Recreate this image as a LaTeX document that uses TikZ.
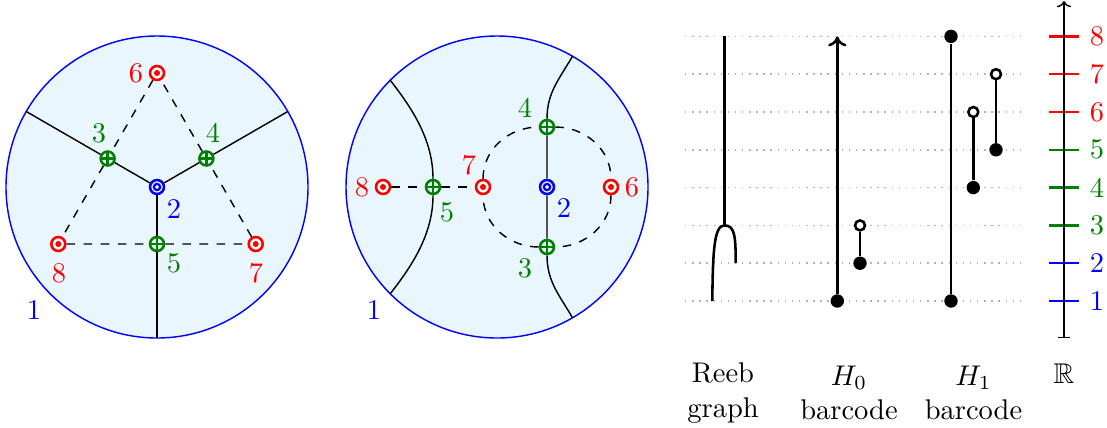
\documentclass[tikz,border=0pt]{standalone}
\usepackage{amsmath,amssymb}
\usepackage{tikz}
\usetikzlibrary{arrows.meta,calc}
\definecolor{discfill}{RGB}{234,246,253}
\colorlet{critgreen}{green!50!black}

\begin{document}
\begin{tikzpicture}[x=0.351pt, y=0.351pt,
  disc/.style={draw=blue, fill=discfill, line width=0.5pt},
  maxpt/.style={circle, draw=red, fill=white, line width=0.9pt,
    minimum size=4.9pt, inner sep=0pt,
    path picture={\fill[red] (path picture bounding box.center) circle (1.05pt);}},
  sadpt/.style={circle, draw=critgreen, fill=discfill, line width=0.9pt,
    minimum size=4.9pt, inner sep=0pt,
    path picture={\draw[critgreen, line width=0.8pt]
      (path picture bounding box.west) -- (path picture bounding box.east)
      (path picture bounding box.north) -- (path picture bounding box.south);}},
  minpt/.style={circle, draw=blue, fill=white, line width=0.9pt,
    minimum size=4.9pt, inner sep=0pt,
    path picture={\draw[blue, line width=0.8pt] (path picture bounding box.center) circle (1.1pt);}},
  lbl/.style={inner sep=0pt},
  ridge/.style={line width=0.5pt},
  flowdash/.style={dashed, line width=0.5pt},
  levelline/.style={dotted, black!30, line width=0.5pt},
  tickmark/.style={line width=0.9pt},
  reeb/.style={line width=0.9pt},
  bar/.style={line width=0.9pt},
  born/.style={circle, fill=black, minimum size=4.7pt, inner sep=0pt},
  dies/.style={circle, draw=black, fill=white, line width=0.9pt, minimum size=3.5pt, inner sep=0pt},
  caption/.style={align=center}
]
  \useasboundingbox (0,0) rectangle (1107,427);

  % first disc
  \coordinate (c1) at (157,240);
  \draw[disc] (c1) circle (151);
  \node[minpt] (a2) at (c1) {};
  \node[maxpt] (a6) at ($(c1)+(90:114)$) {};
  \node[maxpt] (a8) at ($(c1)+(210:114)$) {};
  \node[maxpt] (a7) at ($(c1)+(330:114)$) {};
  \node[sadpt] (a3) at ($(a6)!0.5!(a8)$) {};
  \node[sadpt] (a4) at ($(a6)!0.5!(a7)$) {};
  \node[sadpt] (a5) at ($(a8)!0.5!(a7)$) {};
  \coordinate (a3e) at ($(c1)+(150:151)$);
  \coordinate (a4e) at ($(c1)+(30:151)$);
  \coordinate (a5e) at ($(c1)+(270:151)$);
  \draw[ridge] (a2) -- (a3) -- (a3e);
  \draw[ridge] (a2) -- (a4) -- (a4e);
  \draw[ridge] (a2) -- (a5) -- (a5e);
  \draw[flowdash] (a6) -- (a3) -- (a8) -- (a5) -- (a7) -- (a4) -- (a6);
  \node[lbl, text=red] (ta6) at (136,354) {6};
  \node[lbl, text=critgreen] (ta3) at (99,294) {3};
  \node[lbl, text=critgreen] (ta4) at (213,294) {4};
  \node[lbl, text=blue] (ta2) at (174,218) {2};
  \node[lbl, text=critgreen] (ta5) at (174,164) {5};
  \node[lbl, text=red] (ta8) at (59,154) {8};
  \node[lbl, text=red] (ta7) at (256,154) {7};
  \node[lbl, text=blue] (ta1) at (34,117) {1};

  % second disc
  \coordinate (c2) at (497,240);
  \draw[disc] (c2) circle (151);
  \node[minpt] (b2) at (547,240) {};
  \node[maxpt] (b6) at (611,240) {};
  \node[maxpt] (b7) at (483,240) {};
  \node[maxpt] (b8) at (383,240) {};
  \node[sadpt] (b5) at (433,240) {};
  \node[sadpt] (b4) at (547,300) {};
  \node[sadpt] (b3) at (547,180) {};
  \coordinate (b5n) at ($(c2)+(135:151)$);
  \coordinate (b5s) at ($(c2)+(225:151)$);
  \coordinate (b4n) at ($(c2)+(60:151)$);
  \coordinate (b3s) at ($(c2)+(300:151)$);
  \draw[ridge] (b5n) to[out=-52,in=90,looseness=0.9] (b5) to[out=-90,in=52,looseness=0.9] (b5s);
  \draw[ridge] (b4n) to[out=-120,in=90] (b4) -- (b2) -- (b3) to[out=-90,in=120] (b3s);
  \draw[flowdash] (b8) -- (b5) -- (b7);
  \draw[flowdash] (b7) to[out=90,in=180] (b4) to[out=0,in=90] (b6)
    to[out=-90,in=0] (b3) to[out=180,in=-90] (b7);
  \node[lbl, text=red] (tb8) at (362,240) {8};
  \node[lbl, text=critgreen] (tb5) at (447,215) {5};
  \node[lbl, text=red] (tb7) at (469,262) {7};
  \node[lbl, text=blue] (tb2) at (564,219) {2};
  \node[lbl, text=red] (tb6) at (632,240) {6};
  \node[lbl, text=critgreen] (tb4) at (525,319) {4};
  \node[lbl, text=critgreen] (tb3) at (525,159) {3};
  \node[lbl, text=blue] (tb1) at (374,117) {1};

  % levels and the real line
  \foreach \k/\col in {1/blue,2/blue,3/critgreen,4/critgreen,5/critgreen,6/red,7/red,8/red}{
    \draw[levelline] (685,{88.2+37.8*\k}) -- (1026,{88.2+37.8*\k});
    \draw[tickmark, \col] (1049,{88.2+37.8*\k}) -- (1079,{88.2+37.8*\k});
    \node[lbl, text=\col] (lv\k) at (1097,{88.2+37.8*\k}) {\k};
  }
  \coordinate (axlo) at (1064,89);
  \coordinate (axhi) at (1064,426);
  \draw[{Bar[width=4.3pt]}-{To[length=2.2pt,width=5pt]}, line width=0.5pt] (axlo) -- (axhi);

  % Reeb graph
  \coordinate (rtop) at (724.3,390.6);
  \coordinate (rfork) at (724.3,201.6);
  \coordinate (rleft) at (712.3,126);
  \coordinate (rright) at (735.7,163.8);
  \draw[reeb] (rtop) -- (rfork);
  \draw[reeb] (rleft) .. controls (712.8,175) and (714,201.6) .. (rfork)
    .. controls (734.5,201.6) and (735.7,192) .. (rright);

  % H0 barcode
  \node[born] (h0a) at (837.3,126) {};
  \coordinate (h0inf) at (837.3,390.6);
  \draw[bar, -{To[length=3.5pt,width=6.4pt]}] (h0a) -- (h0inf);
  \node[born] (h0b) at (860,163.8) {};
  \node[dies] (h0c) at (860,201.6) {};
  \draw[bar] (h0b) -- (h0c);

  % H1 barcode
  \node[born] (h1a) at (951,126) {};
  \node[born] (h1b) at (951,390.6) {};
  \draw[bar] (h1a) -- (h1b);
  \node[born] (h1c) at (973.3,239.4) {};
  \node[dies] (h1d) at (973.3,315) {};
  \draw[bar] (h1c) -- (h1d);
  \node[born] (h1e) at (996,277.2) {};
  \node[dies] (h1f) at (996,352.8) {};
  \draw[bar] (h1e) -- (h1f);

  % captions
  \node[caption] (capreeb) at (723,34) {Reeb\\graph};
  \node[caption] (caph0) at (849,34) {$H_0$\\barcode};
  \node[caption] (caph1) at (973.5,34) {$H_1$\\barcode};
  \node[anchor=base] (capr) at (1064,44) {$\mathbb{R}$};
\end{tikzpicture}
\end{document}
